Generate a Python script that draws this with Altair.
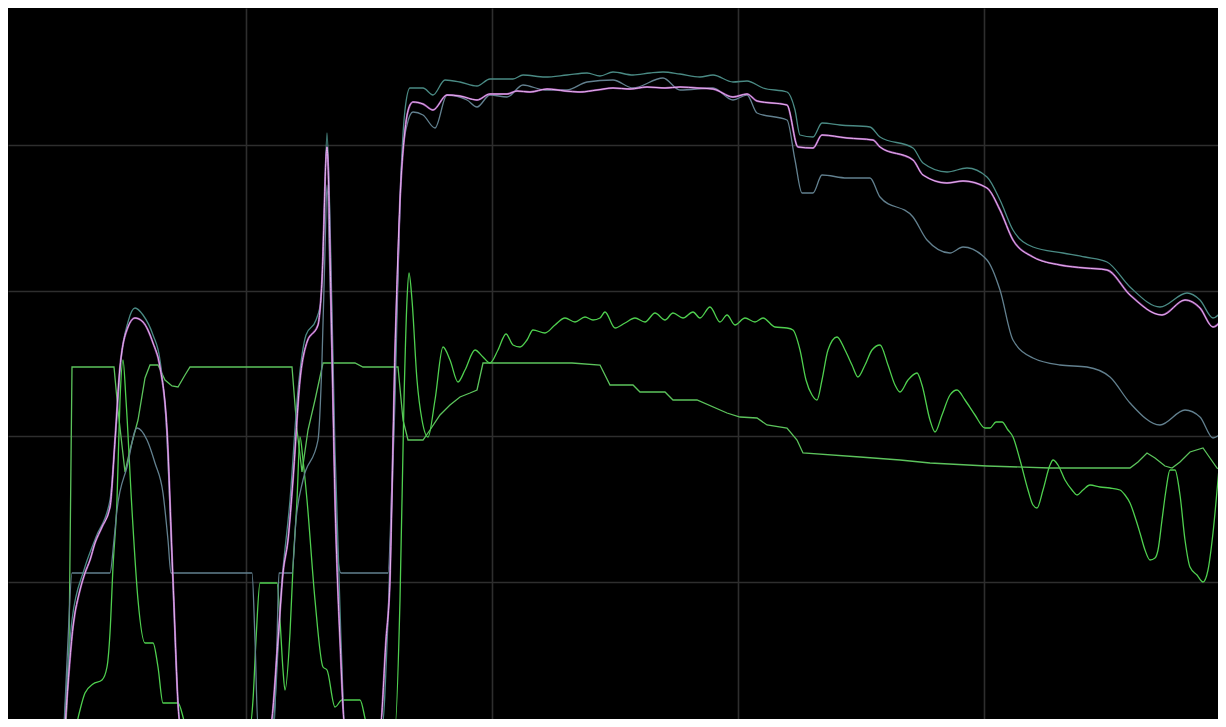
import altair as alt
import pandas as pd

# ---- data (x: time index, y: level) ----
upper_x = [64, 72, 84, 96, 110, 116, 121, 128, 135, 143, 153, 160, 166, 172, 178, 181, 268,
           272, 282, 290, 298, 306, 316, 321, 324, 327, 330, 335, 341, 345, 382,
           388, 395, 400, 405, 410, 423, 433, 445, 460, 477, 490, 513, 523, 545, 567, 587, 600, 613, 633, 650, 663, 680, 700, 713,
           733, 747, 763, 787, 795, 800, 813, 822, 840, 870, 880, 913, 923, 947, 967, 987, 1000, 1013,
           1033, 1063, 1085, 1107, 1130, 1160, 1187, 1200, 1213, 1226]
upper_y = [0, 107, 157, 190, 227, 297, 367, 405, 419, 412, 392, 367, 307, 167, 27, 0, 0,
           0, 147, 227, 337, 392, 407, 427, 507, 594, 507, 277, 87, 0, 0,
           107, 327, 527, 617, 639, 639, 632, 647, 645, 641, 648, 648, 652, 650, 652, 654, 651, 655, 652, 654, 655, 653, 650, 652,
           645, 646, 639, 635, 617, 592, 590, 604, 602, 600, 590, 579, 564, 555, 559, 550, 527, 497,
           480, 474, 470, 465, 440, 420, 434, 427, 409, 422]

pink_x = [65, 73, 80, 85, 90, 95, 102, 110, 115, 120, 128, 135, 143, 153, 160, 167, 173, 180, 270,
          278, 283, 288, 293, 300, 307, 318, 322, 327, 331, 335, 340, 345, 380,
          386, 390, 395, 400, 405, 410, 413, 423, 433, 447, 460, 477, 490, 507, 517, 530, 547, 565, 580, 597, 613, 630, 647, 665, 680, 697, 713,
          733, 747, 757, 787, 798, 813, 822, 847, 873, 880, 913, 923, 947, 963, 987, 1000, 1013,
          1033, 1060, 1085, 1107, 1130, 1162, 1185, 1200, 1213, 1226]
pink_y = [0, 100, 137, 154, 167, 184, 200, 220, 287, 360, 400, 409, 405, 384, 360, 297, 147, 4, 0,
          87, 154, 187, 247, 347, 385, 402, 447, 580, 427, 227, 87, 0, 0,
          87, 147, 377, 527, 597, 622, 625, 623, 617, 632, 631, 627, 633, 633, 636, 635, 638, 636, 635, 637, 639, 638, 640, 639, 640, 639, 638,
          630, 633, 626, 622, 580, 579, 592, 589, 587, 580, 567, 552, 544, 546, 539, 517, 487,
          470, 462, 459, 457, 432, 412, 427, 419, 400, 414]

lower_x = [64, 68, 72, 110, 114, 117, 127, 137, 147, 155, 163, 168, 171, 252, 255, 258, 274,
           277, 279, 292, 296, 303, 318, 322, 325, 327, 330, 335, 338, 341, 388,
           392, 397, 402, 407, 413, 423, 435, 447, 467, 477, 490, 507, 523, 545, 567, 587, 613, 633, 663, 680, 713,
           733, 747, 757, 787, 795, 802, 813, 822, 847, 870, 880, 913, 927, 950, 963, 987, 1000, 1013,
           1033, 1060, 1087, 1110, 1130, 1160, 1185, 1200, 1213, 1226]
lower_y = [0, 87, 154, 154, 187, 217, 260, 299, 287, 264, 234, 187, 154, 154, 87, 0, 0,
           87, 154, 154, 207, 247, 287, 367, 477, 542, 447, 247, 167, 154, 154,
           247, 427, 567, 602, 615, 612, 599, 632, 627, 620, 632, 630, 642, 637, 637, 645, 647, 639, 649, 637, 639,
           627, 632, 614, 607, 567, 534, 534, 552, 549, 549, 530, 510, 487, 474, 480, 467, 437, 387,
           369, 362, 360, 350, 324, 302, 317, 310, 289, 299]

osc_x = [76, 80, 85, 93, 102, 107, 110, 113, 117, 120, 123, 126, 132, 138, 145, 153, 158, 163, 178, 187, 250,
         253, 256, 260, 277, 280, 283, 285, 290, 293, 297, 300, 303, 307, 315, 323, 327, 335, 342, 360, 368, 395,
         400, 404, 407, 409, 412, 417, 422, 428, 435, 443, 450, 458, 465, 475, 483, 490, 498, 506, 513, 520, 527, 533,
         545, 555, 565, 575, 585, 593, 600, 605, 615, 625, 635, 645, 655, 665, 673, 683, 693, 700, 710, 720, 727, 735,
         745, 755, 763, 775, 787, 793, 800, 806, 812, 817, 822, 828, 837, 845, 852, 858, 865, 872, 880, 888, 895, 900,
         908, 917, 922, 930, 935, 942, 950, 957, 965, 975, 985, 990, 996, 1002, 1008, 1013, 1020, 1028, 1033, 1037,
         1043, 1050, 1053, 1058, 1065, 1072, 1077, 1083, 1090, 1100, 1110, 1120, 1125, 1130, 1136, 1140, 1145, 1150,
         1155, 1158, 1162, 1166, 1170, 1175, 1180, 1185, 1190, 1197, 1203, 1208, 1213, 1218, 1222, 1226]
osc_y = [0, 17, 34, 43, 47, 60, 94, 160, 227, 327, 367, 327, 217, 127, 84, 84, 60, 24, 24, 0, 0,
         27, 87, 144, 144, 107, 57, 37, 94, 160, 227, 290, 267, 227, 127, 60, 57, 20, 27, 27, 0, 0,
         127, 327, 427, 454, 427, 347, 307, 290, 327, 380, 367, 345, 357, 377, 370, 364, 377, 393, 382, 380, 387, 397,
         394, 402, 409, 405, 410, 407, 409, 415, 399, 404, 409, 405, 414, 407, 414, 409, 415, 409, 420, 405, 412, 402,
         409, 405, 409, 400, 399, 397, 377, 347, 332, 327, 347, 377, 390, 377, 362, 350, 362, 377, 382, 362, 342, 335,
         347, 354, 342, 307, 295, 312, 332, 337, 327, 312, 299, 299, 305, 305, 297, 290, 267, 237, 222, 219,
         237, 262, 267, 262, 247, 237, 232, 237, 242, 240, 239, 237, 232, 224, 207, 194, 177, 167,
         169, 177, 207, 237, 257, 257, 232, 187, 160, 152, 145, 157, 194, 247, 289, 290]

ramp_x = [66, 69, 72, 114, 118, 125, 130, 138, 145, 150, 158, 165, 172, 178, 185, 190, 292,
          297, 302, 308, 315, 323, 355, 363, 398, 403, 408, 423, 430, 440, 450, 460, 470, 477, 483,
          572, 600, 610, 633, 640, 665, 673, 697, 727, 740, 757, 767, 787, 797, 803,
          860, 900, 930, 987, 1050, 1130, 1138, 1147, 1155, 1165, 1172, 1180, 1190, 1203, 1210, 1217, 1226]
ramp_y = [0, 77, 360, 360, 317, 255, 277, 307, 349, 362, 362, 347, 341, 340, 352, 360, 360,
          297, 255, 297, 327, 364, 364, 360, 360, 307, 287, 287, 297, 312, 322, 330, 334, 337, 364,
          364, 362, 342, 342, 335, 335, 327, 327, 314, 310, 309, 302, 299, 287, 274,
          270, 267, 264, 261, 259, 259, 265, 274, 269, 261, 259, 265, 275, 279, 269, 259, 255]

grid_x = [246, 492, 738, 984]
grid_y = [145.4, 290.8, 436.2, 581.6]

SERIES = [
    ("ramp", ramp_x, ramp_y),
    ("osc", osc_x, osc_y),
    ("lower", lower_x, lower_y),
    ("upper", upper_x, upper_y),
    ("pink", pink_x, pink_y),
]

rows = []
for name, xs, ys in SERIES:
    for i, (x, y) in enumerate(zip(xs, ys)):
        rows.append({"series": name, "i": i, "t": x, "v": y})
df = pd.DataFrame(rows)

xscale = alt.Scale(domain=[8, 1218], nice=False, zero=False)
yscale = alt.Scale(domain=[8, 719], nice=False, zero=False)
xaxis = alt.Axis(values=grid_x, labels=False, ticks=False, domain=False, title=None,
                 grid=True, gridColor="#2e2e2e", gridWidth=1.6)
yaxis = alt.Axis(values=grid_y, labels=False, ticks=False, domain=False, title=None,
                 grid=True, gridColor="#2e2e2e", gridWidth=1.6)


def line(name, color, width, opacity=1.0, interp="linear"):
    return alt.Chart(df).transform_filter(alt.datum.series == name).mark_line(
        color=color, strokeWidth=width, opacity=opacity, clip=True, interpolate=interp
    ).encode(
        x=alt.X("t:Q", scale=xscale, axis=xaxis),
        y=alt.Y("v:Q", scale=yscale, axis=yaxis),
        order="i:Q",
    )


chart = alt.layer(
    line("ramp", "#5cc35c", 1.3),
    line("osc", "#4fcf4f", 1.3, interp="monotone"),
    line("lower", "#62808f", 1.3, interp="monotone"),
    line("upper", "#4a8a84", 1.3, interp="monotone"),
    line("pink", "#b35cc4", 2.0, 0.8, interp="monotone"),
    line("pink", "#e6b4ee", 1.0, interp="monotone"),
).properties(
    width=1210, height=711, background="#000000", padding=0,
    autosize=alt.AutoSizeParams(type="none"),
).configure_view(stroke=None, fill="#000000")

chart.save("out.html", embed_options={"renderer": "svg", "actions": False})
